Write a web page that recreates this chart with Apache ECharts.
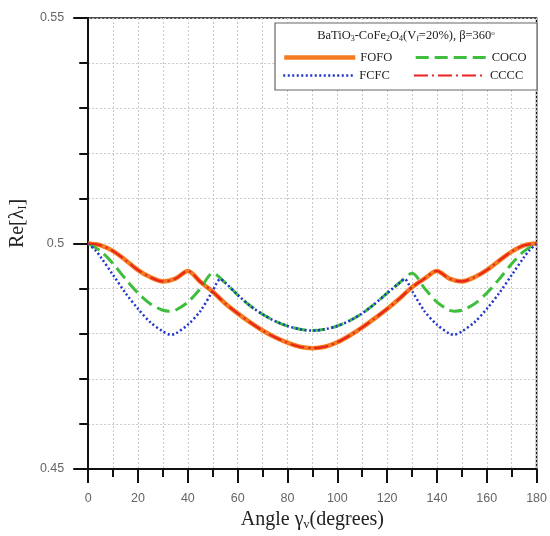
<!DOCTYPE html>
<html><head><meta charset="utf-8">
<script src="https://cdn.jsdelivr.net/npm/echarts@6/dist/echarts.min.js"></script>
<style>html,body{margin:0;padding:0;background:#fff}#c{width:550px;height:536px}</style>
</head><body><div id="c"></div>
<script>
// ---- data ----
const xTicks = [0, 20, 40, 60, 80, 100, 120, 140, 160, 180];
const yTicks = [0.45, 0.5, 0.55];

const fofoAngles = [0,5,10,15,20,25,30,35,40,45,50,55,60,65,70,75,80,85,90,95,100,105,110,115,120,125,130,135,140,145,150,155,160,165,170,175,180];
const fofoValues = [0.5000,0.4996,0.4983,0.4963,0.4941,0.4925,0.4916,0.4922,0.4939,0.4915,0.4893,0.4867,0.4845,0.4825,0.4807,0.4792,0.4780,0.4771,0.4768,0.4771,0.4781,0.4796,0.4814,0.4834,0.4855,0.4878,0.4903,0.4922,0.4939,0.4922,0.4916,0.4925,0.4941,0.4962,0.4982,0.4996,0.5000];

const cocoAngles = [0,5,10,15,20,25,30,33,35,40,45,50,55,60,65,70,75,80,85,90,95,100,105,110,115,120,125,130,135,140,145,147,150,155,160,165,170,175,180];
const cocoValues = [0.5000,0.4983,0.4955,0.4921,0.4890,0.4866,0.4852,0.4850,0.4852,0.4870,0.4900,0.4934,0.4913,0.4886,0.4862,0.4843,0.4828,0.4817,0.4810,0.4807,0.4810,0.4817,0.4829,0.4845,0.4866,0.4890,0.4913,0.4934,0.4901,0.4870,0.4852,0.4850,0.4852,0.4866,0.4890,0.4921,0.4955,0.4983,0.5000];

const fcfcAngles = [0,3,5,10,15,20,25,30,33,35,40,45,50,53,55,60,65,70,75,80,85,90,95,100,105,110,115,120,125,127,130,135,140,145,147,150,155,160,165,170,175,177,180];
const fcfcValues = [0.5000,0.4984,0.4970,0.4930,0.4890,0.4855,0.4825,0.4805,0.4798,0.4800,0.4820,0.4850,0.4895,0.4921,0.4913,0.4886,0.4862,0.4843,0.4828,0.4817,0.4810,0.4807,0.4810,0.4817,0.4829,0.4845,0.4866,0.4890,0.4913,0.4921,0.4895,0.4850,0.4820,0.4800,0.4798,0.4805,0.4825,0.4855,0.4890,0.4930,0.4970,0.4984,0.5000];

const ccccAngles = fofoAngles;
const ccccValues = fofoValues;

const pairs = (a, v) => a.map((x, i) => [x, v[i]]);
const serif = 'Liberation Serif';
const sans = 'Liberation Sans';

const styles = {
  FOFO: {color: '#F47B20', width: 4.5, type: 'solid'},
  COCO: {color: '#3DBE3D', width: 3, type: [13, 6]},
  FCFC: {color: '#2233CC', width: 2.5, type: [2, 2.5]},
  CCCC: {color: '#E8231C', width: 2.2, type: [14, 4, 2, 4]}
};

const chart = echarts.init(document.getElementById('c'), null, {renderer: 'canvas'});
const gridLine = {show: true, lineStyle: {color: '#c8c8c8', width: 1, type: [2, 2]}};
const legendText = {fontFamily: serif, fontSize: 12.5, color: '#222'};
const legendItem = n => ({name: n, itemStyle: {opacity: 0}, lineStyle: {color: styles[n].color, width: styles[n].width, type: styles[n].type}});

chart.setOption({
  animation: false,
  backgroundColor: '#fff',
  grid: {left: 87, right: 8, top: 18, bottom: 64, show: true, borderColor: '#111', borderWidth: 1.5, backgroundColor: 'transparent'},
  xAxis: {
    type: 'value', min: 0, max: 180, interval: 20,
    axisLine: {show: true, onZero: false, lineStyle: {color: '#111', width: 2}},
    axisTick: {show: true, length: 14, lineStyle: {color: '#111', width: 2}},
    minorTick: {show: true, splitNumber: 2, length: 8, lineStyle: {color: '#111', width: 2}},
    splitLine: gridLine, minorSplitLine: gridLine,
    axisLabel: {margin: 23, color: '#666', fontSize: 12.5, fontFamily: sans,
      formatter: v => xTicks.includes(v) ? String(v) : ''},
    name: 'Angle γ{s|v}(degrees)', nameLocation: 'middle', nameGap: 40,
    nameTextStyle: {fontFamily: serif, fontSize: 20, color: '#222',
      rich: {s: {fontFamily: serif, fontSize: 12, color: '#222', padding: [10, 0, 0, 0]}}}
  },
  yAxis: {
    type: 'value', min: 0.45, max: 0.55, interval: 0.05,
    axisLine: {show: true, onZero: false, lineStyle: {color: '#111', width: 2}},
    axisTick: {show: true, length: 15, lineStyle: {color: '#111', width: 2}},
    minorTick: {show: true, splitNumber: 5, length: 9, lineStyle: {color: '#111', width: 2}},
    splitLine: gridLine, minorSplitLine: gridLine,
    axisLabel: {margin: 24, color: '#666', fontSize: 12.5, fontFamily: sans,
      formatter: v => { const t = yTicks.find(k => Math.abs(k - v) < 1e-9); return t === undefined ? '' : String(t); }},
    name: 'Re[λ{s|I}]', nameLocation: 'middle', nameGap: 52,
    nameTextStyle: {fontFamily: serif, fontSize: 20, color: '#222', padding: [0, 0, 0, 40],
      rich: {s: {fontFamily: serif, fontSize: 12, color: '#222', padding: [10, 0, 0, 0]}}}
  },
  legend: [
    {data: ['FOFO', 'COCO'].map(legendItem), left: 282, top: 51, padding: 0, itemWidth: 71, itemHeight: 14, itemGap: 22, z: 10, textStyle: legendText},
    {data: ['FCFC', 'CCCC'].map(legendItem), left: 282, top: 69, padding: 0, itemWidth: 71, itemHeight: 14, itemGap: 23, z: 10, textStyle: legendText}
  ],
  graphic: [
    {type: 'rect', x: 275, y: 23, z: 3, silent: true,
     shape: {width: 262, height: 67}, style: {fill: '#fff', stroke: '#666', lineWidth: 1.2}},
    {type: 'text', x: 406, y: 36, z: 11, silent: true,
     style: {
       text: 'BaTiO{s|3}-CoFe{s|2}O{s|4}(V{s|f}=20%), β=360{p|o}',
       fontFamily: serif, fontSize: 12.5, fill: '#222', align: 'center', verticalAlign: 'middle',
       rich: {s: {fontFamily: serif, fontSize: 8, fill: '#222', padding: [6, 0, 0, 0]},
              p: {fontFamily: serif, fontSize: 7, fill: '#222', padding: [0, 0, 6, 0]}}
     }}
  ],
  series: ['FOFO', 'COCO', 'FCFC', 'CCCC'].map((n, i) => ({
    name: n, type: 'line', symbol: 'none', smooth: 0.3,
    data: [pairs(fofoAngles, fofoValues), pairs(cocoAngles, cocoValues), pairs(fcfcAngles, fcfcValues), pairs(ccccAngles, ccccValues)][i],
    lineStyle: {color: styles[n].color, width: styles[n].width, type: styles[n].type},
    itemStyle: {color: styles[n].color}
  }))
});
</script></body></html>
